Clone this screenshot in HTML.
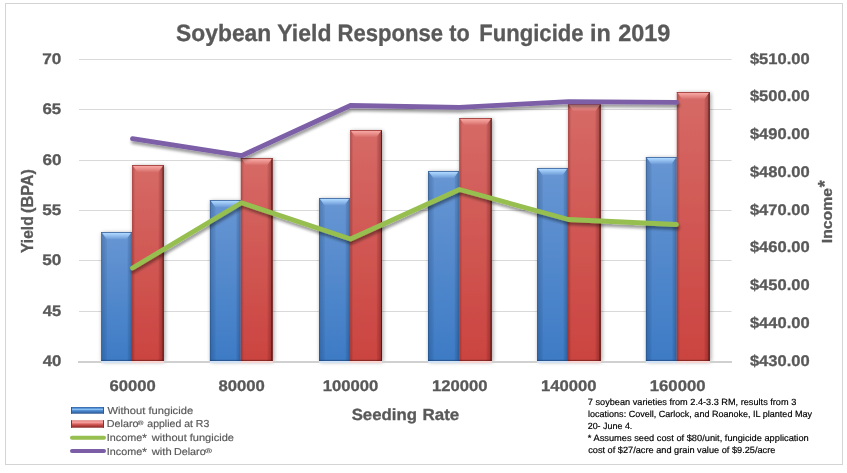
<!DOCTYPE html>
<html><head><meta charset="utf-8"><title>Soybean Yield Response to Fungicide in 2019</title>
<style>
html,body{margin:0;padding:0;background:#fff;}
body{width:847px;height:473px;overflow:hidden;font-family:"Liberation Sans",sans-serif;}
svg{display:block;will-change:transform;font-family:"Liberation Sans",sans-serif;}
.b{font-weight:bold;fill:#595959;}
.lg{fill:#595959;font-size:10.5px;}
.fn{fill:#000;font-size:9.4px;}
</style></head><body>
<svg width="847" height="473" viewBox="0 0 847 473">
<defs>
<linearGradient id="gb" x1="0" y1="0" x2="0" y2="1"><stop offset="0" stop-color="#6896d3"/><stop offset="1" stop-color="#3d7bc5"/></linearGradient>
<linearGradient id="gr" x1="0" y1="0" x2="0" y2="1"><stop offset="0" stop-color="#d66a66"/><stop offset="1" stop-color="#cb4440"/></linearGradient>
<linearGradient id="gbt" x1="0" y1="0" x2="0" y2="1"><stop offset="0" stop-color="#b2dbff"/><stop offset="0.35" stop-color="#9ac6f4"/><stop offset="1" stop-color="#6b99d6"/></linearGradient>
<linearGradient id="grt" x1="0" y1="0" x2="0" y2="1"><stop offset="0" stop-color="#f9aaa6"/><stop offset="0.35" stop-color="#ee9692"/><stop offset="1" stop-color="#d66c68"/></linearGradient>
<linearGradient id="lgb" x1="0" y1="0" x2="0" y2="1"><stop offset="0" stop-color="#2f5f9f"/><stop offset="0.18" stop-color="#4f8bd0"/><stop offset="0.36" stop-color="#8cc2f4"/><stop offset="0.52" stop-color="#5590d4"/><stop offset="0.75" stop-color="#3b72b6"/><stop offset="1" stop-color="#28528c"/></linearGradient>
<linearGradient id="lgr" x1="0" y1="0" x2="0" y2="1"><stop offset="0" stop-color="#d86f6c"/><stop offset="0.25" stop-color="#f9a8a5"/><stop offset="0.55" stop-color="#d45a57"/><stop offset="0.8" stop-color="#a83a37"/><stop offset="1" stop-color="#842624"/></linearGradient>
<linearGradient id="hbb" x1="0" y1="0" x2="1" y2="0"><stop offset="0" stop-color="#0a2850" stop-opacity="0.55"/><stop offset="0.04" stop-color="#0a2850" stop-opacity="0.22"/><stop offset="0.17" stop-color="#0a2850" stop-opacity="0.08"/><stop offset="0.2" stop-color="#0a2850" stop-opacity="0"/><stop offset="0.84" stop-color="#0a2850" stop-opacity="0"/><stop offset="0.88" stop-color="#0a2850" stop-opacity="0.12"/><stop offset="1" stop-color="#0a2850" stop-opacity="0.25"/></linearGradient>
<linearGradient id="hbr" x1="0" y1="0" x2="1" y2="0"><stop offset="0" stop-color="#400808" stop-opacity="0.3"/><stop offset="0.06" stop-color="#400808" stop-opacity="0.12"/><stop offset="0.1" stop-color="#400808" stop-opacity="0"/><stop offset="0.82" stop-color="#400808" stop-opacity="0"/><stop offset="0.86" stop-color="#400808" stop-opacity="0.12"/><stop offset="0.955" stop-color="#400808" stop-opacity="0.3"/><stop offset="0.965" stop-color="#300404" stop-opacity="0.7"/><stop offset="1" stop-color="#300404" stop-opacity="0.75"/></linearGradient>
<filter id="sh" x="-30%" y="-10%" width="160%" height="120%"><feGaussianBlur in="SourceAlpha" stdDeviation="2.2"/><feOffset dx="0.7" dy="1.0"/><feComponentTransfer><feFuncA type="linear" slope="0.38"/></feComponentTransfer><feMerge><feMergeNode/><feMergeNode in="SourceGraphic"/></feMerge></filter>
<filter id="shl" x="-5%" y="-20%" width="110%" height="150%"><feGaussianBlur in="SourceAlpha" stdDeviation="1.7"/><feOffset dx="0.6" dy="3.1"/><feComponentTransfer><feFuncA type="linear" slope="0.4"/></feComponentTransfer><feMerge><feMergeNode/><feMergeNode in="SourceGraphic"/></feMerge></filter>
</defs>
<rect x="0" y="0" width="847" height="473" fill="#fff"/>
<rect x="5.5" y="3.5" width="837" height="461" fill="#fff" stroke="#d4d4d4" stroke-width="1"/>

<rect x="79" y="59" width="652.5" height="1" fill="#d9d9d9"/>
<rect x="79" y="109" width="652.5" height="1" fill="#d9d9d9"/>
<rect x="79" y="160" width="652.5" height="1" fill="#d9d9d9"/>
<rect x="79" y="210" width="652.5" height="1" fill="#d9d9d9"/>
<rect x="79" y="260" width="652.5" height="1" fill="#d9d9d9"/>
<rect x="79" y="311" width="652.5" height="1" fill="#d9d9d9"/>
<g filter="url(#sh)"><rect x="101.20" y="232" width="30.80" height="129" fill="url(#gb)"/><rect x="101.20" y="232" width="30.80" height="129" fill="url(#hbb)"/><polygon points="102.00,232.8 131.20,232.8 126.50,239.2 106.70,239.2" fill="url(#gbt)"/><rect x="101.20" y="232" width="30.80" height="1" fill="#41689f" opacity="0.75"/></g>
<g filter="url(#sh)"><rect x="132.00" y="165" width="31.80" height="196" fill="url(#gr)"/><rect x="132.00" y="165" width="31.80" height="196" fill="url(#hbr)"/><polygon points="132.80,165.8 163.00,165.8 158.30,172.2 137.50,172.2" fill="url(#grt)"/><rect x="132.00" y="165" width="31.80" height="1" fill="#9c3d3a" opacity="0.75"/></g>
<g filter="url(#sh)"><rect x="209.90" y="200" width="30.90" height="161" fill="url(#gb)"/><rect x="209.90" y="200" width="30.90" height="161" fill="url(#hbb)"/><polygon points="210.70,200.8 240.00,200.8 235.30,207.2 215.40,207.2" fill="url(#gbt)"/><rect x="209.90" y="200" width="30.90" height="1" fill="#41689f" opacity="0.75"/></g>
<g filter="url(#sh)"><rect x="240.80" y="158" width="31.90" height="203" fill="url(#gr)"/><rect x="240.80" y="158" width="31.90" height="203" fill="url(#hbr)"/><polygon points="241.60,158.8 271.90,158.8 267.20,165.2 246.30,165.2" fill="url(#grt)"/><rect x="240.80" y="158" width="31.90" height="1" fill="#9c3d3a" opacity="0.75"/></g>
<g filter="url(#sh)"><rect x="319.00" y="198" width="31.10" height="163" fill="url(#gb)"/><rect x="319.00" y="198" width="31.10" height="163" fill="url(#hbb)"/><polygon points="319.80,198.8 349.30,198.8 344.60,205.2 324.50,205.2" fill="url(#gbt)"/><rect x="319.00" y="198" width="31.10" height="1" fill="#41689f" opacity="0.75"/></g>
<g filter="url(#sh)"><rect x="350.10" y="130" width="31.90" height="231" fill="url(#gr)"/><rect x="350.10" y="130" width="31.90" height="231" fill="url(#hbr)"/><polygon points="350.90,130.8 381.20,130.8 376.50,137.2 355.60,137.2" fill="url(#grt)"/><rect x="350.10" y="130" width="31.90" height="1" fill="#9c3d3a" opacity="0.75"/></g>
<g filter="url(#sh)"><rect x="428.00" y="171" width="31.20" height="190" fill="url(#gb)"/><rect x="428.00" y="171" width="31.20" height="190" fill="url(#hbb)"/><polygon points="428.80,171.8 458.40,171.8 453.70,178.2 433.50,178.2" fill="url(#gbt)"/><rect x="428.00" y="171" width="31.20" height="1" fill="#41689f" opacity="0.75"/></g>
<g filter="url(#sh)"><rect x="459.20" y="118" width="32.60" height="243" fill="url(#gr)"/><rect x="459.20" y="118" width="32.60" height="243" fill="url(#hbr)"/><polygon points="460.00,118.8 491.00,118.8 486.30,125.2 464.70,125.2" fill="url(#grt)"/><rect x="459.20" y="118" width="32.60" height="1" fill="#9c3d3a" opacity="0.75"/></g>
<g filter="url(#sh)"><rect x="537.10" y="168" width="30.90" height="193" fill="url(#gb)"/><rect x="537.10" y="168" width="30.90" height="193" fill="url(#hbb)"/><polygon points="537.90,168.8 567.20,168.8 562.50,175.2 542.60,175.2" fill="url(#gbt)"/><rect x="537.10" y="168" width="30.90" height="1" fill="#41689f" opacity="0.75"/></g>
<g filter="url(#sh)"><rect x="568.00" y="104" width="32.80" height="257" fill="url(#gr)"/><rect x="568.00" y="104" width="32.80" height="257" fill="url(#hbr)"/><polygon points="568.80,104.8 600.00,104.8 595.30,111.2 573.50,111.2" fill="url(#grt)"/><rect x="568.00" y="104" width="32.80" height="1" fill="#9c3d3a" opacity="0.75"/></g>
<g filter="url(#sh)"><rect x="645.90" y="157" width="30.90" height="204" fill="url(#gb)"/><rect x="645.90" y="157" width="30.90" height="204" fill="url(#hbb)"/><polygon points="646.70,157.8 676.00,157.8 671.30,164.2 651.40,164.2" fill="url(#gbt)"/><rect x="645.90" y="157" width="30.90" height="1" fill="#41689f" opacity="0.75"/></g>
<g filter="url(#sh)"><rect x="676.80" y="92" width="33.00" height="269" fill="url(#gr)"/><rect x="676.80" y="92" width="33.00" height="269" fill="url(#hbr)"/><polygon points="677.60,92.8 709.00,92.8 704.30,99.2 682.30,99.2" fill="url(#grt)"/><rect x="676.80" y="92" width="33.00" height="1" fill="#9c3d3a" opacity="0.75"/></g>
<rect x="78" y="361" width="654" height="2" fill="#d0d0d0"/>
<rect x="101.20" y="361" width="30.80" height="2" fill="#d3e3f6"/><rect x="132.00" y="361" width="31.80" height="2" fill="#f8d6d4"/>
<rect x="101.20" y="359.8" width="30.80" height="1.2" fill="#1c3d70" opacity="0.55"/><rect x="132.00" y="359.8" width="31.80" height="1.2" fill="#5a1414" opacity="0.55"/>
<rect x="209.90" y="361" width="30.90" height="2" fill="#d3e3f6"/><rect x="240.80" y="361" width="31.90" height="2" fill="#f8d6d4"/>
<rect x="209.90" y="359.8" width="30.90" height="1.2" fill="#1c3d70" opacity="0.55"/><rect x="240.80" y="359.8" width="31.90" height="1.2" fill="#5a1414" opacity="0.55"/>
<rect x="319.00" y="361" width="31.10" height="2" fill="#d3e3f6"/><rect x="350.10" y="361" width="31.90" height="2" fill="#f8d6d4"/>
<rect x="319.00" y="359.8" width="31.10" height="1.2" fill="#1c3d70" opacity="0.55"/><rect x="350.10" y="359.8" width="31.90" height="1.2" fill="#5a1414" opacity="0.55"/>
<rect x="428.00" y="361" width="31.20" height="2" fill="#d3e3f6"/><rect x="459.20" y="361" width="32.60" height="2" fill="#f8d6d4"/>
<rect x="428.00" y="359.8" width="31.20" height="1.2" fill="#1c3d70" opacity="0.55"/><rect x="459.20" y="359.8" width="32.60" height="1.2" fill="#5a1414" opacity="0.55"/>
<rect x="537.10" y="361" width="30.90" height="2" fill="#d3e3f6"/><rect x="568.00" y="361" width="32.80" height="2" fill="#f8d6d4"/>
<rect x="537.10" y="359.8" width="30.90" height="1.2" fill="#1c3d70" opacity="0.55"/><rect x="568.00" y="359.8" width="32.80" height="1.2" fill="#5a1414" opacity="0.55"/>
<rect x="645.90" y="361" width="30.90" height="2" fill="#d3e3f6"/><rect x="676.80" y="361" width="33.00" height="2" fill="#f8d6d4"/>
<rect x="645.90" y="359.8" width="30.90" height="1.2" fill="#1c3d70" opacity="0.55"/><rect x="676.80" y="359.8" width="33.00" height="1.2" fill="#5a1414" opacity="0.55"/>
<polyline points="132.5,268 241.5,202.8 350.5,239 459.5,189.5 568.5,219.5 676.5,224.5" fill="none" stroke="#96bf4f" stroke-width="4.8" stroke-linecap="round" stroke-linejoin="round" filter="url(#shl)"/>
<polyline points="132.5,138.7 241.5,155.7 350.5,105.5 459.5,107.3 568.5,101.7 676.5,102.3" fill="none" stroke="#7b5ea6" stroke-width="4.8" stroke-linecap="round" stroke-linejoin="round" filter="url(#shl)"/>
<rect x="71" y="407" width="33" height="6.7" fill="url(#lgb)"/><rect x="71" y="407" width="1" height="6.7" fill="#2c5c9c"/><rect x="103" y="407" width="1" height="6.7" fill="#2c5c9c"/>
<rect x="71" y="420.3" width="33" height="7.4" fill="url(#lgr)"/><rect x="71" y="420.3" width="1" height="7.4" fill="#8e2f2c"/><rect x="103" y="420.3" width="1" height="7.4" fill="#8e2f2c"/>
<line x1="72" y1="437.8" x2="104" y2="437.8" stroke="#96bf4f" stroke-width="4" stroke-linecap="round"/>
<line x1="72" y1="451" x2="104" y2="451" stroke="#7b5ea6" stroke-width="4" stroke-linecap="round"/>
<text transform="translate(176.11,40.50) skewX(0.05)" fill="#595959" font-weight="bold" stroke="#595959" stroke-width="0.3" font-size="23.6" textLength="95.13" lengthAdjust="spacingAndGlyphs">Soybean</text>
<text transform="translate(277.36,40.50) skewX(0.05)" fill="#595959" font-weight="bold" stroke="#595959" stroke-width="0.3" font-size="23.6" textLength="54.08" lengthAdjust="spacingAndGlyphs">Yield</text>
<text transform="translate(337.56,40.50) skewX(0.05)" fill="#595959" font-weight="bold" stroke="#595959" stroke-width="0.3" font-size="23.6" textLength="105.58" lengthAdjust="spacingAndGlyphs">Response</text>
<text transform="translate(449.28,40.50) skewX(0.05)" fill="#595959" font-weight="bold" stroke="#595959" stroke-width="0.3" font-size="23.6" textLength="20.47" lengthAdjust="spacingAndGlyphs">to</text>
<text transform="translate(479.20,40.50) skewX(0.05)" fill="#595959" font-weight="bold" stroke="#595959" stroke-width="0.3" font-size="23.6" textLength="104.39" lengthAdjust="spacingAndGlyphs">Fungicide</text>
<text transform="translate(590.08,40.50) skewX(0.05)" fill="#595959" font-weight="bold" stroke="#595959" stroke-width="0.3" font-size="23.6" textLength="20.80" lengthAdjust="spacingAndGlyphs">in</text>
<text transform="translate(618.19,40.50) skewX(0.05)" fill="#595959" font-weight="bold" stroke="#595959" stroke-width="0.3" font-size="23.6" textLength="52.22" lengthAdjust="spacingAndGlyphs">2019</text>
<text transform="translate(42.27,63.80) skewX(0.05)" fill="#595959" font-weight="bold" stroke="#595959" stroke-width="0.3" font-size="15.4" textLength="19.11" lengthAdjust="spacingAndGlyphs">70</text>
<text transform="translate(42.43,113.80) skewX(0.05)" fill="#595959" font-weight="bold" stroke="#595959" stroke-width="0.3" font-size="15.4" textLength="18.77" lengthAdjust="spacingAndGlyphs">65</text>
<text transform="translate(42.39,164.80) skewX(0.05)" fill="#595959" font-weight="bold" stroke="#595959" stroke-width="0.3" font-size="15.4" textLength="19.03" lengthAdjust="spacingAndGlyphs">60</text>
<text transform="translate(42.15,214.80) skewX(0.05)" fill="#595959" font-weight="bold" stroke="#595959" stroke-width="0.3" font-size="15.4" textLength="19.12" lengthAdjust="spacingAndGlyphs">55</text>
<text transform="translate(42.25,264.80) skewX(0.05)" fill="#595959" font-weight="bold" stroke="#595959" stroke-width="0.3" font-size="15.4" textLength="19.13" lengthAdjust="spacingAndGlyphs">50</text>
<text transform="translate(42.78,315.80) skewX(0.05)" fill="#595959" font-weight="bold" stroke="#595959" stroke-width="0.3" font-size="15.4" textLength="18.40" lengthAdjust="spacingAndGlyphs">45</text>
<text transform="translate(42.74,365.80) skewX(0.05)" fill="#595959" font-weight="bold" stroke="#595959" stroke-width="0.3" font-size="15.4" textLength="18.68" lengthAdjust="spacingAndGlyphs">40</text>
<text transform="translate(749.89,63.70) skewX(0.05)" fill="#595959" font-weight="bold" stroke="#595959" stroke-width="0.3" font-size="15.4" textLength="59.80" lengthAdjust="spacingAndGlyphs">$510.00</text>
<text transform="translate(749.89,101.45) skewX(0.05)" fill="#595959" font-weight="bold" stroke="#595959" stroke-width="0.3" font-size="15.4" textLength="59.80" lengthAdjust="spacingAndGlyphs">$500.00</text>
<text transform="translate(749.89,139.20) skewX(0.05)" fill="#595959" font-weight="bold" stroke="#595959" stroke-width="0.3" font-size="15.4" textLength="59.80" lengthAdjust="spacingAndGlyphs">$490.00</text>
<text transform="translate(749.89,176.95) skewX(0.05)" fill="#595959" font-weight="bold" stroke="#595959" stroke-width="0.3" font-size="15.4" textLength="59.80" lengthAdjust="spacingAndGlyphs">$480.00</text>
<text transform="translate(749.89,214.70) skewX(0.05)" fill="#595959" font-weight="bold" stroke="#595959" stroke-width="0.3" font-size="15.4" textLength="59.80" lengthAdjust="spacingAndGlyphs">$470.00</text>
<text transform="translate(749.89,252.45) skewX(0.05)" fill="#595959" font-weight="bold" stroke="#595959" stroke-width="0.3" font-size="15.4" textLength="59.80" lengthAdjust="spacingAndGlyphs">$460.00</text>
<text transform="translate(749.89,290.20) skewX(0.05)" fill="#595959" font-weight="bold" stroke="#595959" stroke-width="0.3" font-size="15.4" textLength="59.80" lengthAdjust="spacingAndGlyphs">$450.00</text>
<text transform="translate(749.89,327.95) skewX(0.05)" fill="#595959" font-weight="bold" stroke="#595959" stroke-width="0.3" font-size="15.4" textLength="59.80" lengthAdjust="spacingAndGlyphs">$440.00</text>
<text transform="translate(749.89,365.70) skewX(0.05)" fill="#595959" font-weight="bold" stroke="#595959" stroke-width="0.3" font-size="15.4" textLength="59.80" lengthAdjust="spacingAndGlyphs">$430.00</text>
<text transform="translate(109.48,391.00) skewX(0.05)" fill="#595959" font-weight="bold" stroke="#595959" stroke-width="0.3" font-size="15.5" textLength="46.23" lengthAdjust="spacingAndGlyphs">60000</text>
<text transform="translate(218.39,391.00) skewX(0.05)" fill="#595959" font-weight="bold" stroke="#595959" stroke-width="0.3" font-size="15.5" textLength="46.44" lengthAdjust="spacingAndGlyphs">80000</text>
<text transform="translate(322.68,391.00) skewX(0.05)" fill="#595959" font-weight="bold" stroke="#595959" stroke-width="0.3" font-size="15.5" textLength="55.65" lengthAdjust="spacingAndGlyphs">100000</text>
<text transform="translate(431.92,391.00) skewX(0.05)" fill="#595959" font-weight="bold" stroke="#595959" stroke-width="0.3" font-size="15.5" textLength="55.51" lengthAdjust="spacingAndGlyphs">120000</text>
<text transform="translate(540.94,391.00) skewX(0.05)" fill="#595959" font-weight="bold" stroke="#595959" stroke-width="0.3" font-size="15.5" textLength="55.53" lengthAdjust="spacingAndGlyphs">140000</text>
<text transform="translate(649.77,391.00) skewX(0.05)" fill="#595959" font-weight="bold" stroke="#595959" stroke-width="0.3" font-size="15.5" textLength="55.75" lengthAdjust="spacingAndGlyphs">160000</text>
<text transform="translate(351.67,419.55) skewX(0.05)" fill="#595959" font-weight="bold" stroke="#595959" stroke-width="0.3" font-size="16.1" textLength="65.26" lengthAdjust="spacingAndGlyphs">Seeding</text>
<text transform="translate(422.52,419.55) skewX(0.05)" fill="#595959" font-weight="bold" stroke="#595959" stroke-width="0.3" font-size="16.1" textLength="36.80" lengthAdjust="spacingAndGlyphs">Rate</text>
<text transform="translate(32.90,252.93) rotate(-90)" fill="#595959" font-weight="bold" stroke="#595959" stroke-width="0.3" font-size="16.2" textLength="36.59" lengthAdjust="spacingAndGlyphs">Yield</text>
<text transform="translate(32.90,212.96) rotate(-90)" fill="#595959" font-weight="bold" stroke="#595959" stroke-width="0.3" font-size="16.2" textLength="43.95" lengthAdjust="spacingAndGlyphs">(BPA)</text>
<text transform="translate(832.20,243.16) rotate(-90)" fill="#595959" font-weight="bold" stroke="#595959" stroke-width="0.3" font-size="15.3" textLength="55.10" lengthAdjust="spacingAndGlyphs">Income</text>
<text transform="translate(831.00,187.23) rotate(-90)" fill="#595959" font-weight="bold" stroke="#595959" stroke-width="0.3" font-size="19" textLength="6.92" lengthAdjust="spacingAndGlyphs">*</text>
<text transform="translate(107.45,413.70) skewX(0.05)" fill="#595959" stroke="#595959" stroke-width="0.18" font-size="10.1" textLength="85.66" lengthAdjust="spacingAndGlyphs">Without fungicide</text>
<text transform="translate(106.84,427.00) skewX(0.05)" fill="#595959" stroke="#595959" stroke-width="0.18" font-size="10.1" textLength="31.64" lengthAdjust="spacingAndGlyphs">Delaro</text>
<text transform="translate(137.83,425.00) skewX(0.05)" fill="#595959" stroke="#595959" stroke-width="0.18" font-size="6.5" textLength="5.61" lengthAdjust="spacingAndGlyphs">®</text>
<text transform="translate(147.33,427.00) skewX(0.05)" fill="#595959" stroke="#595959" stroke-width="0.18" font-size="10.1" textLength="61.94" lengthAdjust="spacingAndGlyphs">applied at R3</text>
<text transform="translate(106.87,440.60) skewX(0.05)" fill="#595959" stroke="#595959" stroke-width="0.18" font-size="10.1" textLength="35.34" lengthAdjust="spacingAndGlyphs">Income</text>
<text transform="translate(142.32,441.70) skewX(0.05)" fill="#595959" stroke="#595959" stroke-width="0.18" font-size="12" textLength="4.65" lengthAdjust="spacingAndGlyphs">*</text>
<text transform="translate(151.77,440.60) skewX(0.05)" fill="#595959" stroke="#595959" stroke-width="0.18" font-size="10.1" textLength="82.15" lengthAdjust="spacingAndGlyphs">without fungicide</text>
<text transform="translate(106.87,454.50) skewX(0.05)" fill="#595959" stroke="#595959" stroke-width="0.18" font-size="10.1" textLength="35.34" lengthAdjust="spacingAndGlyphs">Income</text>
<text transform="translate(142.32,455.60) skewX(0.05)" fill="#595959" stroke="#595959" stroke-width="0.18" font-size="12" textLength="4.65" lengthAdjust="spacingAndGlyphs">*</text>
<text transform="translate(151.73,454.50) skewX(0.05)" fill="#595959" stroke="#595959" stroke-width="0.18" font-size="10.1" textLength="19.92" lengthAdjust="spacingAndGlyphs">with</text>
<text transform="translate(173.95,454.50) skewX(0.05)" fill="#595959" stroke="#595959" stroke-width="0.18" font-size="10.1" textLength="31.75" lengthAdjust="spacingAndGlyphs">Delaro</text>
<text transform="translate(205.36,452.50) skewX(0.05)" fill="#595959" stroke="#595959" stroke-width="0.18" font-size="6.5" textLength="6.53" lengthAdjust="spacingAndGlyphs">®</text>
<text transform="translate(587.86,405.10) skewX(0.05)" fill="#000000" stroke="#000000" stroke-width="0.18" font-size="9.0" textLength="208.40" lengthAdjust="spacingAndGlyphs">7 soybean varieties from 2.4-3.3 RM, results from 3</text>
<text transform="translate(588.01,417.00) skewX(0.05)" fill="#000000" stroke="#000000" stroke-width="0.18" font-size="9.0" textLength="223.96" lengthAdjust="spacingAndGlyphs">locations: Covell, Carlock, and Roanoke, IL planted May</text>
<text transform="translate(587.70,428.90) skewX(0.05)" fill="#000000" stroke="#000000" stroke-width="0.18" font-size="9.0" textLength="44.64" lengthAdjust="spacingAndGlyphs">20- June 4.</text>
<text transform="translate(587.86,441.00) skewX(0.05)" fill="#000000" stroke="#000000" stroke-width="0.18" font-size="9.0" textLength="220.88" lengthAdjust="spacingAndGlyphs">* Assumes seed cost of $80/unit, fungicide application</text>
<text transform="translate(588.17,453.10) skewX(0.05)" fill="#000000" stroke="#000000" stroke-width="0.18" font-size="9.0" textLength="187.21" lengthAdjust="spacingAndGlyphs">cost of $27/acre and grain value of $9.25/acre</text>
</svg></body></html>
